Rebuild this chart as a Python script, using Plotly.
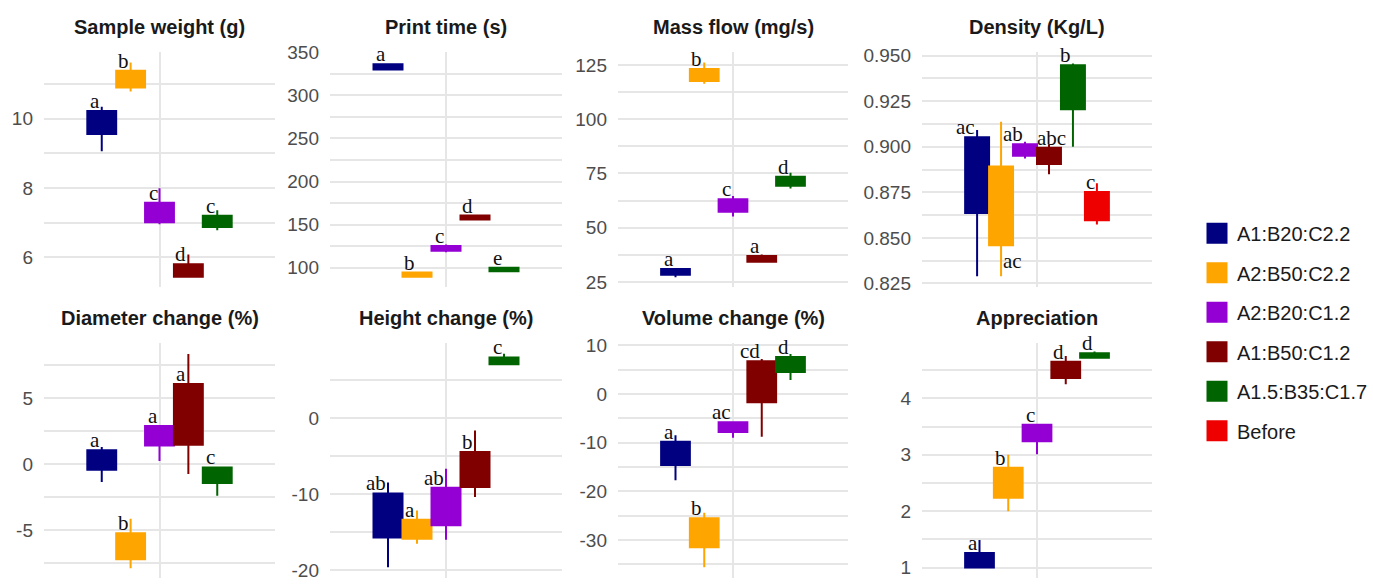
import plotly.graph_objects as go

# ---------------- data ----------------
groups = ["A1:B20:C2.2", "A2:B50:C2.2", "A2:B20:C1.2", "A1:B50:C1.2", "A1.5:B35:C1.7", "Before"]
colors = ["#000080", "#FFA500", "#9400D3", "#800000", "#006400", "#EE0000"]

panel_titles = ["Sample weight (g)", "Print time (s)", "Mass flow (mg/s)", "Density (Kg/L)",
                "Diameter change (%)", "Height change (%)", "Volume change (%)", "Appreciation"]

# whisker low, box bottom, box top, whisker high, letters
weight_low = [9.06, 10.78, 6.95, 5.44, 6.78]
weight_q1 = [9.56, 10.90, 7.01, 5.44, 6.87]
weight_q3 = [10.22, 11.38, 7.57, 5.80, 7.20]
weight_high = [10.34, 11.62, 7.99, 6.08, 7.36]
weight_letters = ["a", "b", "c", "d", "c"]

time_low = [329, 88.5, 118, 155, 95.5]
time_q1 = [330, 89.5, 119.6, 156, 96]
time_q3 = [336, 94.5, 125.2, 160.5, 100]
time_high = [337, 95, 127, 161, 101]
time_letters = ["a", "b", "c", "d", "e"]

flow_low = [27.2, 116.4, 55.2, 34.3, 68.1]
flow_q1 = [28.3, 117.6, 57.4, 34.3, 69.3]
flow_q3 = [31.0, 123.2, 63.1, 37.0, 73.5]
flow_high = [31.0, 126.2, 64.6, 37.7, 75.3]
flow_letters = ["a", "b", "c", "a", "d"]

density_low = [0.8289, 0.8289, 0.8936, 0.8849, 0.9000, 0.8574]
density_q1 = [0.8637, 0.8459, 0.8950, 0.8905, 0.9206, 0.8596]
density_q3 = [0.9052, 0.8892, 0.9013, 0.8995, 0.9447, 0.8752]
density_high = [0.9092, 0.9137, 0.9027, 0.9013, 0.9456, 0.8800]
density_letters = ["ac", "ac", "ab", "abc", "b", "c"]

diameter_low = [-1.35, -7.9, 0.25, -0.74, -2.4]
diameter_q1 = [-0.41, -7.21, 1.43, 1.47, -1.42]
diameter_q3 = [1.06, -5.24, 2.9, 6.1, -0.24]
diameter_high = [1.3, -4.14, 2.9, 8.36, -0.24]
diameter_letters = ["a", "b", "a", "a", "c"]

height_low = [-19.58, -16.48, -15.96, -10.34, 7.11]
height_q1 = [-15.66, -15.83, -14.05, -9.02, 7.11]
height_q3 = [-9.87, -13.32, -9.14, -4.43, 8.0]
height_high = [-8.43, -12.13, -6.64, -1.61, 8.5]
height_letters = ["ab", "a", "ab", "b", "c"]

volume_low = [-17.7, -35.6, -9.0, -8.8, 2.85]
volume_q1 = [-14.6, -31.5, -7.8, -1.7, 4.5]
volume_q3 = [-9.8, -25.5, -5.8, 6.7, 7.6]
volume_high = [-8.5, -24.4, -5.8, 7.2, 8.2]
volume_letters = ["a", "b", "ac", "cd", "d"]

apprec_low = [1.0, 2.0, 3.01, 4.25, 4.72]
apprec_q1 = [1.0, 2.24, 3.24, 4.36, 4.72]
apprec_q3 = [1.26, 2.77, 3.53, 4.65, 4.80]
apprec_high = [1.49, 3.0, 3.53, 4.75, 4.83]
apprec_letters = ["a", "b", "c", "d", "d"]

# tick labels per panel
weight_ticks = [6, 8, 10]
time_ticks = [100, 150, 200, 250, 300, 350]
flow_ticks = [25, 50, 75, 100, 125]
density_ticks = [0.825, 0.850, 0.875, 0.900, 0.925, 0.950]
diameter_ticks = [-5, 0, 5]
height_ticks = [-20, -10, 0]
volume_ticks = [-30, -20, -10, 0, 10]
apprec_ticks = [1, 2, 3, 4]

panel_data = [
    (weight_low, weight_q1, weight_q3, weight_high, weight_letters, weight_ticks),
    (time_low, time_q1, time_q3, time_high, time_letters, time_ticks),
    (flow_low, flow_q1, flow_q3, flow_high, flow_letters, flow_ticks),
    (density_low, density_q1, density_q3, density_high, density_letters, density_ticks),
    (diameter_low, diameter_q1, diameter_q3, diameter_high, diameter_letters, diameter_ticks),
    (height_low, height_q1, height_q3, height_high, height_letters, height_ticks),
    (volume_low, volume_q1, volume_q3, volume_high, volume_letters, volume_ticks),
    (apprec_low, apprec_q1, apprec_q3, apprec_high, apprec_letters, apprec_ticks),
]

# ---------------- layout / style config ----------------
W, H = 1373, 586
col_px = [(44, 275), (330, 562), (618, 848), (922, 1152)]
row_px = [(43, 285), (343, 585)]
y_ranges = [(5.15, 11.93), (78, 350.6), (22.8, 131.1), (0.8232, 0.9521),
            (-8.64, 9.2), (-21.0, 9.9), (-37.8, 10.45), (0.815, 4.98)]
minor_steps = [1, 25, 12.5, 0.0125, 2.5, 5, 5, 0.5]
tick_fmt = ["{:g}", "{:g}", "{:g}", "{:.3f}", "{:g}", "{:g}", "{:g}", "{:g}"]
# special letter placements (panel index, group index) -> (where, xanchor, xshift)
label_special = {(3, 1): ("below", "left", 0), (3, 3): ("above", "center", 3)}

grid_col = "#E6E6E6"
dodge_total = 0.75
title_font = dict(family="Liberation Sans, Arial, sans-serif", size=20, color="#1A1A1A")
tick_font = dict(family="Liberation Sans, Arial, sans-serif", size=19, color="#4D4D4D")
letter_font = dict(family="Liberation Serif, Times New Roman, serif", size=21, color="#111111")

fig = go.Figure()
annotations = []
layout_axes = {}

for p, (lows, q1s, q3s, highs, letters, ticks) in enumerate(panel_data):
    r, c = divmod(p, 4)
    ax = "" if p == 0 else str(p + 1)
    xref, yref = "x" + ax, "y" + ax
    n = len(q1s)
    w = dodge_total / n
    for i in range(n):
        pos = 1 + (i - (n - 1) / 2) * w
        col = colors[i]
        fig.add_trace(go.Box(
            x=[pos], q1=[q1s[i]], median=[q1s[i]], q3=[q3s[i]],
            lowerfence=[lows[i]], upperfence=[highs[i]],
            width=w, whiskerwidth=0, boxpoints=False,
            fillcolor=col, line=dict(color=col, width=2),
            showlegend=False, hoverinfo="skip",
            xaxis=xref, yaxis=yref,
        ))
        where, xa, xs = label_special.get((p, i), ("above", "right", 0))
        if where == "above":
            annotations.append(dict(x=pos, y=q3s[i], xref=xref, yref=yref, text=letters[i],
                                    showarrow=False, xanchor=xa, yanchor="bottom",
                                    xshift=xs, yshift=-4, font=letter_font))
        else:
            annotations.append(dict(x=pos, y=q1s[i], xref=xref, yref=yref, text=letters[i],
                                    showarrow=False, xanchor=xa, yanchor="top",
                                    xshift=xs, yshift=-2, font=letter_font))

    x0, x1 = col_px[c]
    yt, yb = row_px[r]
    layout_axes["xaxis" + ax] = dict(
        domain=[x0 / W, x1 / W], range=[0.4, 1.6], tickvals=[1], showticklabels=False,
        showgrid=True, gridcolor=grid_col, gridwidth=1.6, zeroline=False, showline=False,
        ticks="", anchor=yref, fixedrange=True)
    layout_axes["yaxis" + ax] = dict(
        domain=[1 - yb / H, 1 - yt / H], range=list(y_ranges[p]),
        tickvals=ticks, ticktext=[tick_fmt[p].format(t) for t in ticks],
        tickfont=tick_font, ticklabelstandoff=10, showgrid=True, gridcolor=grid_col, gridwidth=1.6,
        minor=dict(dtick=minor_steps[p], tick0=0, showgrid=True, gridcolor=grid_col, gridwidth=1.6),
        zeroline=False, showline=False, ticks="", anchor=xref, fixedrange=True)
    annotations.append(dict(x=(x0 + x1) / 2 / W, y=1 - (yt - 12.5) / H, xref="paper", yref="paper",
                            text="<b>" + panel_titles[p] + "</b>", showarrow=False,
                            xanchor="center", yanchor="bottom", font=title_font))

# legend entries
for i, g in enumerate(groups):
    fig.add_trace(go.Scatter(
        x=[None], y=[None], mode="markers", name=g, legendgroup=g,
        marker=dict(symbol="square", size=16, color=colors[i], line=dict(color=colors[i], width=5)),
        xaxis="x", yaxis="y"))

fig.update_layout(
    width=W, height=H, margin=dict(l=0, r=0, t=0, b=0),
    paper_bgcolor="white", plot_bgcolor="white", boxmode="overlay",
    annotations=annotations,
    legend=dict(x=1.0, y=1 - 332 / H, xanchor="right", yanchor="middle",
                font=dict(family="Liberation Sans, Arial, sans-serif", size=20, color="#1A1A1A"),
                tracegroupgap=10.5, itemsizing="trace", bgcolor="rgba(0,0,0,0)"),
    **layout_axes,
)

fig.write_html("out.html")
